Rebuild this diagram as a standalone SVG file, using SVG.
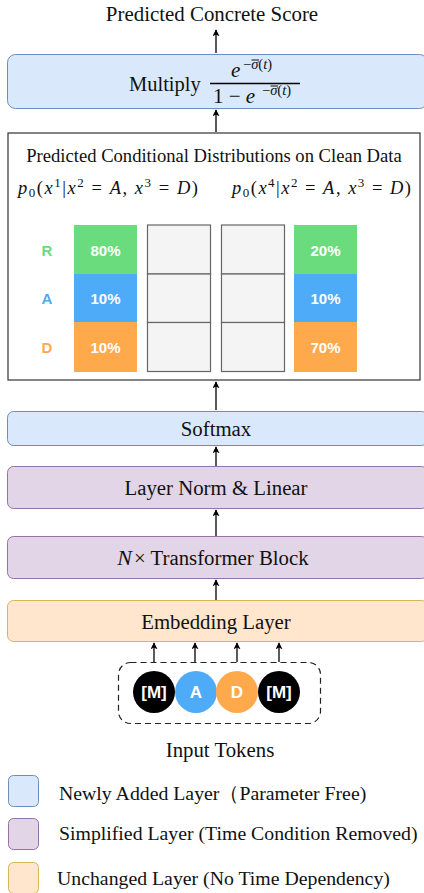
<svg xmlns="http://www.w3.org/2000/svg" width="424" height="893" viewBox="0 0 424 893">
<style>
.t{font-family:"Liberation Serif",serif;fill:#111}
.m{font-family:"Liberation Serif",serif;font-style:italic;fill:#111}
.r{font-family:"Liberation Serif",serif;fill:#111}
.blue{fill:#dae8fc;stroke:#6c8ebf;stroke-width:1}
.purple{fill:#e1d5e7;stroke:#9673a6;stroke-width:1}
.orange{fill:#ffe6cc;stroke:#d6b656;stroke-width:1}
.cellg{fill:#f4f4f4;stroke:#666;stroke-width:1.2}
.pct{font-family:"Liberation Sans",Arial,sans-serif;font-weight:bold;font-size:15px;fill:#fff;text-anchor:middle}
.lab{font-family:"Liberation Sans",Arial,sans-serif;font-weight:bold;font-size:15px;text-anchor:middle}
.tok{font-family:"Liberation Sans",Arial,sans-serif;font-weight:bold;font-size:17px;fill:#fff;text-anchor:middle}
.c{stroke:#000;stroke-width:1.3;fill:none}
.L{font-size:20.8px;text-anchor:middle}
.G{font-size:19.8px}
.ol{stroke:#111;stroke-width:1}
</style>
<defs>
<marker id="ah" viewBox="0 0 10 10" refX="9" refY="5" markerWidth="7" markerHeight="7" orient="auto-start-reverse" markerUnits="userSpaceOnUse">
<path d="M0,0 L10,5 L0,10 L2.5,5 Z" fill="#000"/>
</marker>
</defs>

<g id="title">
<text class="t" x="212" y="21" font-size="20.9" text-anchor="middle">Predicted Concrete Score</text>
</g>

<g id="multiply">
<rect class="blue" x="7.5" y="54.5" width="420" height="54" rx="8"/>
<text class="t" x="129" y="91" font-size="20.5">Multiply</text>
<text class="m" x="231" y="77" font-size="21">e</text>
<text class="r" x="243" y="69" font-size="14.5">−<tspan font-style="italic">σ</tspan>(<tspan font-style="italic">t</tspan>)</text>
<line class="ol" x1="251.5" y1="60" x2="259" y2="60"/>
<line x1="210" y1="83.5" x2="300" y2="83.5" stroke="#000" stroke-width="1.3"/>
<text class="r" x="213" y="103" font-size="21">1 − <tspan font-style="italic">e</tspan></text>
<text class="r" x="262" y="95" font-size="14.5">−<tspan font-style="italic">σ</tspan>(<tspan font-style="italic">t</tspan>)</text>
<line class="ol" x1="270.5" y1="86" x2="278" y2="86"/>
</g>

<g id="distributions">
<rect x="8" y="133" width="412" height="247" fill="#fff" stroke="#333" stroke-width="1.2"/>
<text class="t" x="214" y="162" font-size="18.6" text-anchor="middle">Predicted Conditional Distributions on Clean Data</text>
<text class="m" x="18" y="194" font-size="18.5" textLength="180" lengthAdjust="spacing">p<tspan font-style="normal" font-size="13" dy="3">0</tspan><tspan font-style="normal" dy="-3">(</tspan>x<tspan font-style="normal" font-size="13" dy="-7">1</tspan><tspan font-style="normal" dy="7">|</tspan>x<tspan font-style="normal" font-size="13" dy="-7">2</tspan><tspan font-style="normal" dy="7"> = </tspan>A<tspan font-style="normal">, </tspan>x<tspan font-style="normal" font-size="13" dy="-7">3</tspan><tspan font-style="normal" dy="7"> = </tspan>D<tspan font-style="normal">)</tspan></text>
<text class="m" x="232" y="194" font-size="18.5" textLength="179" lengthAdjust="spacing">p<tspan font-style="normal" font-size="13" dy="3">0</tspan><tspan font-style="normal" dy="-3">(</tspan>x<tspan font-style="normal" font-size="13" dy="-7">4</tspan><tspan font-style="normal" dy="7">|</tspan>x<tspan font-style="normal" font-size="13" dy="-7">2</tspan><tspan font-style="normal" dy="7"> = </tspan>A<tspan font-style="normal">, </tspan>x<tspan font-style="normal" font-size="13" dy="-7">3</tspan><tspan font-style="normal" dy="7"> = </tspan>D<tspan font-style="normal">)</tspan></text>
<text class="lab" x="47" y="256" fill="#6adc7e">R</text>
<text class="lab" x="47" y="304" fill="#4dabf7">A</text>
<text class="lab" x="47" y="353" fill="#ffa94d">D</text>
<rect x="74" y="225" width="63" height="49" fill="#6adc7e"/>
<rect x="74" y="274" width="63" height="48" fill="#4dabf7"/>
<rect x="74" y="322" width="63" height="50" fill="#ffa94d"/>
<text class="pct" x="105.5" y="256">80%</text>
<text class="pct" x="105.5" y="304">10%</text>
<text class="pct" x="105.5" y="353">10%</text>
<rect class="cellg" x="147.5" y="225" width="63" height="49"/>
<rect class="cellg" x="147.5" y="274" width="63" height="48.5"/>
<rect class="cellg" x="147.5" y="322.5" width="63" height="49"/>
<rect class="cellg" x="221.5" y="225" width="63" height="49"/>
<rect class="cellg" x="221.5" y="274" width="63" height="48.5"/>
<rect class="cellg" x="221.5" y="322.5" width="63" height="49"/>
<rect x="294" y="225" width="63" height="49" fill="#6adc7e"/>
<rect x="294" y="274" width="63" height="48" fill="#4dabf7"/>
<rect x="294" y="322" width="63" height="50" fill="#ffa94d"/>
<text class="pct" x="325.5" y="256">20%</text>
<text class="pct" x="325.5" y="304">10%</text>
<text class="pct" x="325.5" y="353">70%</text>
</g>

<g id="softmax">
<rect class="blue" x="7.5" y="411.5" width="420" height="34" rx="6"/>
<text class="t L" x="216" y="436">Softmax</text>
</g>

<g id="layernorm">
<rect class="purple" x="7.5" y="466.5" width="420" height="42" rx="6"/>
<text class="t L" x="216" y="495">Layer Norm &amp; Linear</text>
</g>

<g id="transformer">
<rect class="purple" x="7.5" y="536.5" width="420" height="42" rx="6"/>
<text class="t L" x="213" y="565"><tspan font-style="italic" font-size="22">N</tspan><tspan dx="2">× Transformer Block</tspan></text>
</g>

<g id="embedding">
<rect class="orange" x="7.5" y="600.5" width="420" height="41" rx="6"/>
<text class="t L" x="216" y="629">Embedding Layer</text>
</g>

<g id="tokens">
<rect x="118.5" y="662.5" width="202" height="61" rx="12" fill="none" stroke="#222" stroke-width="1.2" stroke-dasharray="6,4"/>
<circle cx="154" cy="692" r="21" fill="#000"/>
<circle cx="196" cy="692" r="21" fill="#4dabf7"/>
<circle cx="237" cy="692" r="21" fill="#ffa94d"/>
<circle cx="279" cy="692" r="21" fill="#000"/>
<text class="tok" x="154" y="698">[M]</text>
<text class="tok" x="196" y="698">A</text>
<text class="tok" x="237" y="698">D</text>
<text class="tok" x="279" y="698">[M]</text>
<text class="t L" x="220" y="757">Input Tokens</text>
</g>

<g id="connectors">
<line class="c" x1="216" y1="53" x2="216" y2="30" marker-end="url(#ah)"/>
<line class="c" x1="216" y1="132" x2="216" y2="110" marker-end="url(#ah)"/>
<line class="c" x1="216" y1="410" x2="216" y2="382" marker-end="url(#ah)"/>
<line class="c" x1="216" y1="466" x2="216" y2="447" marker-end="url(#ah)"/>
<line class="c" x1="216" y1="536" x2="216" y2="510" marker-end="url(#ah)"/>
<line class="c" x1="216" y1="600" x2="216" y2="580" marker-end="url(#ah)"/>
<line class="c" x1="154" y1="662" x2="154" y2="643" marker-end="url(#ah)"/>
<line class="c" x1="195" y1="662" x2="195" y2="643" marker-end="url(#ah)"/>
<line class="c" x1="237" y1="662" x2="237" y2="643" marker-end="url(#ah)"/>
<line class="c" x1="279" y1="662" x2="279" y2="643" marker-end="url(#ah)"/>
</g>

<g id="legend">
<rect class="blue" x="8.5" y="775.5" width="30" height="31" rx="5"/>
<rect class="purple" x="8.5" y="818.5" width="30" height="31" rx="5"/>
<rect class="orange" x="8.5" y="862.5" width="30" height="31" rx="5"/>
<text class="t G" x="59" y="800">Newly Added Layer（Parameter Free)</text>
<text class="t G" x="59" y="840">Simplified Layer (Time Condition Removed)</text>
<text class="t G" x="57" y="885">Unchanged Layer (No Time Dependency)</text>
</g>
</svg>
